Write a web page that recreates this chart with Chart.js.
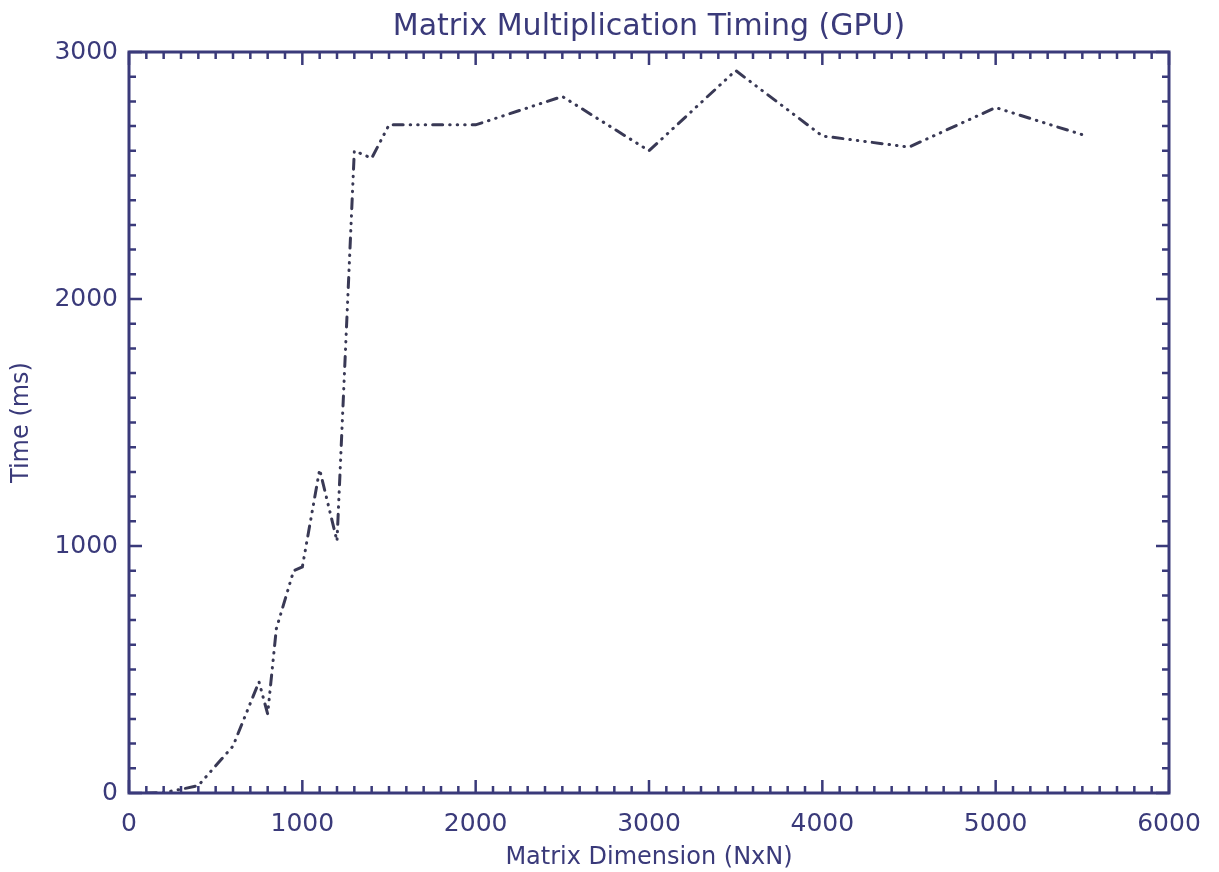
<!DOCTYPE html>
<html>
<head>
<meta charset="utf-8">
<title>Matrix Multiplication Timing (GPU)</title>
<script src="https://cdn.jsdelivr.net/npm/chart.js@4/dist/chart.umd.min.js"></script>
<style>
    html, body { margin: 0; padding: 0; background: #ffffff; }
    #wrap { width: 1219px; height: 872px; }
</style>
</head>
<body>
<div id="wrap"><canvas id="graphCanvas" width="1219" height="872"></canvas></div>
<script>
const matrixSizes = [100, 200, 300, 400, 600, 750, 800, 850, 950, 1000, 1100, 1200, 1300, 1400, 1500,
    2000, 2500, 3000, 3500, 4000, 4500, 5000, 5500];
const timesMs = [0, 2, 15, 30, 190, 450, 320, 665, 900, 915, 1310, 1020, 2600, 2570, 2705,
    2705, 2820, 2600, 2925, 2660, 2615, 2775, 2665];

const xTickValues = [0, 1000, 2000, 3000, 4000, 5000, 6000];
const yTickValues = [0, 1000, 2000, 3000];

const axisColor = '#3a3a7a';
const lineColor = '#393955';
const fontFamily = '"DejaVu Sans", sans-serif';

// IDL style box: axis on all four sides, ticks pointing inward
const boxTicks = {
    id: 'boxTicks',
    afterDraw(chart) {
        const { ctx, chartArea: a, scales } = chart;
        const xs = scales.x, ys = scales.y;
        ctx.save();
        ctx.strokeStyle = axisColor;
        ctx.lineWidth = 3;
        ctx.strokeRect(a.left, a.top, a.right - a.left, a.bottom - a.top);
        ctx.lineWidth = 2.5;
        ctx.beginPath();
        for (let v = 0; v <= 6000; v += 100) {
            const x = xs.getPixelForValue(v);
            const len = v % 1000 === 0 ? 13 : 7;
            ctx.moveTo(x, a.bottom); ctx.lineTo(x, a.bottom - len);
            ctx.moveTo(x, a.top); ctx.lineTo(x, a.top + len);
        }
        for (let v = 0; v <= 3000; v += 100) {
            const y = ys.getPixelForValue(v);
            const len = v % 1000 === 0 ? 13 : 7;
            ctx.moveTo(a.left, y); ctx.lineTo(a.left + len, y);
            ctx.moveTo(a.right, y); ctx.lineTo(a.right - len, y);
        }
        ctx.stroke();
        ctx.restore();
    }
};

const ctx = document.getElementById('graphCanvas').getContext('2d');
const chart = new Chart(ctx, {
    type: 'line',
    data: {
        datasets: [{
            label: 'GPU',
            data: matrixSizes.map((n, i) => ({ x: n, y: timesMs[i] })),
            borderColor: lineColor,
            borderWidth: 3,
            borderDash: [10, 7, 0.5, 7, 0.5, 7, 0.5, 7],
            borderCapStyle: 'round',
            pointRadius: 0,
            tension: 0,
            fill: false
        }]
    },
    options: {
        responsive: false,
        animation: false,
        layout: { padding: { left: 0, right: 50, top: 0, bottom: 0 } },
        scales: {
            x: {
                type: 'linear',
                min: 0,
                max: 6000,
                afterFit(scale) { scale.height = 79; },
                afterBuildTicks(scale) { scale.ticks = xTickValues.map(v => ({ value: v })); },
                grid: { display: false, drawTicks: false },
                border: { display: false },
                ticks: {
                    color: axisColor,
                    padding: 16,
                    maxRotation: 0,
                    callback: v => String(v),
                    font: { family: fontFamily, size: 25 }
                },
                title: {
                    display: true,
                    text: 'Matrix Dimension (NxN)',
                    color: axisColor,
                    padding: { top: 0, bottom: 0 },
                    font: { family: fontFamily, size: 24 }
                }
            },
            y: {
                type: 'linear',
                min: 0,
                max: 3000,
                afterFit(scale) { scale.width = 129; },
                afterBuildTicks(scale) { scale.ticks = yTickValues.map(v => ({ value: v })); },
                grid: { display: false, drawTicks: false },
                border: { display: false },
                ticks: {
                    color: axisColor,
                    padding: 11,
                    callback: v => String(v),
                    font: { family: fontFamily, size: 25 }
                },
                title: {
                    display: true,
                    text: 'Time (ms)',
                    color: axisColor,
                    padding: { top: 7, bottom: 0 },
                    font: { family: fontFamily, size: 24 }
                }
            }
        },
        plugins: {
            legend: { display: false },
            tooltip: { enabled: false },
            title: {
                display: true,
                fullSize: false,
                text: 'Matrix Multiplication Timing (GPU)',
                color: axisColor,
                padding: { top: 9, bottom: 7 },
                font: { family: fontFamily, size: 30, weight: 'normal' }
            }
        }
    },
    plugins: [boxTicks]
});
</script>
</body>
</html>
